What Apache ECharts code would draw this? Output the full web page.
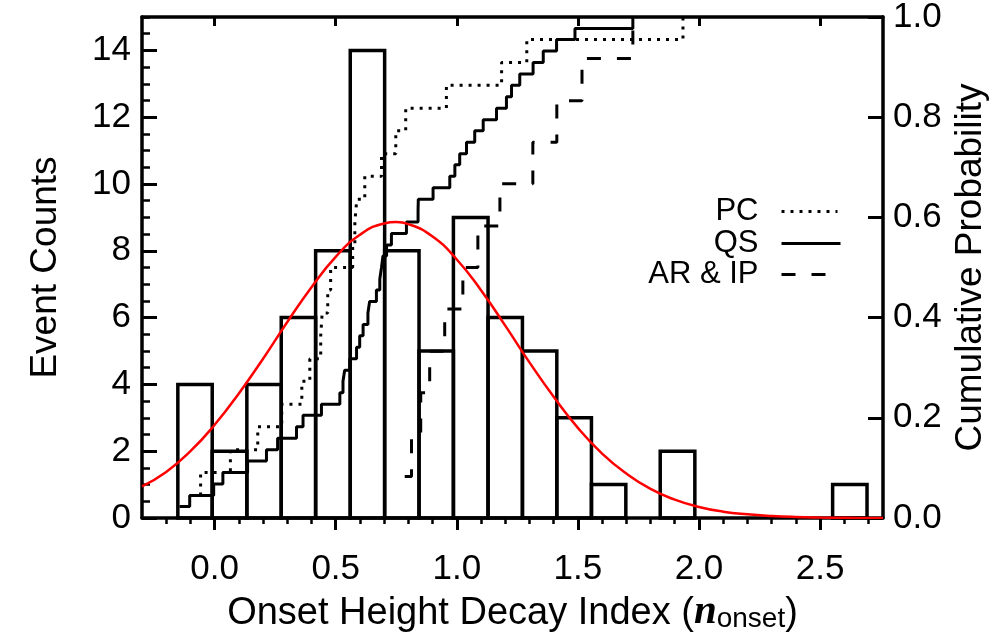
<!DOCTYPE html>
<html><head><meta charset="utf-8">
<script src="https://cdn.jsdelivr.net/npm/echarts@6/dist/echarts.min.js"></script>
<style>html,body{margin:0;padding:0;background:#fff}#c{width:1004px;height:634px}</style>
</head><body><div id="c"></div>
<script>
// ---------- data ----------
const binEdges = [-0.152,-0.010,0.133,0.275,0.417,0.560,0.702,0.844,0.986,1.129,1.271,1.413,1.556,1.698,1.840,1.983,2.125,2.267,2.409,2.552,2.694];
const binCounts = [4,2,4,6,8,14,8,5,9,6,5,3,1,0,2,0,0,0,0,1];

const pcX = [-0.095,-0.058,0.065,0.178,0.277,0.360,0.393,0.438,0.444,0.467,0.479,0.570,0.579,0.587,0.620,0.689,0.748,0.789,0.957,1.185,1.289,1.934];
const pcP = [0.045,0.091,0.136,0.182,0.227,0.273,0.318,0.364,0.409,0.455,0.500,0.545,0.591,0.636,0.682,0.727,0.773,0.818,0.864,0.909,0.955,1.000];

const qsX = [-0.145,-0.103,-0.004,0.034,0.136,0.214,0.260,0.338,0.365,0.441,0.517,0.530,0.537,0.558,0.586,0.599,0.613,0.633,0.640,0.668,0.682,0.689,0.695,0.710,0.730,0.792,0.840,0.841,0.902,0.971,0.992,1.012,1.040,1.074,1.109,1.164,1.205,1.226,1.260,1.315,1.357,1.412,1.488,1.727];
const qsP = [0.023,0.045,0.068,0.091,0.114,0.136,0.159,0.182,0.205,0.227,0.250,0.273,0.295,0.318,0.341,0.364,0.386,0.409,0.432,0.455,0.477,0.500,0.523,0.545,0.568,0.591,0.614,0.636,0.659,0.682,0.705,0.727,0.750,0.773,0.795,0.818,0.841,0.864,0.886,0.909,0.932,0.955,0.977,1.000];

const arX = [0.785,0.813,0.851,0.888,0.950,1.025,1.087,1.178,1.314,1.413,1.517,1.727];
const arP = [0.083,0.167,0.250,0.333,0.417,0.500,0.583,0.667,0.750,0.833,0.917,1.000];

const fitX = [-0.3,-0.2,-0.1,0.0,0.1,0.2,0.3,0.4,0.5,0.6,0.7,0.75,0.8,0.9,1.0,1.1,1.2,1.3,1.4,1.5,1.6,1.7,1.8,1.9,2.0,2.1,2.2,2.3,2.4,2.5,2.6,2.7,2.76];
const fitY = [0.95,1.38,2.00,2.79,3.73,4.77,5.87,6.91,7.82,8.48,8.82,8.86,8.80,8.43,7.74,6.82,5.76,4.66,3.63,2.70,1.93,1.33,0.87,0.55,0.33,0.19,0.11,0.06,0.03,0.014,0.006,0.002,0.001];

const xMajorTicks = [0.0,0.5,1.0,1.5,2.0,2.5];
const seriesNames = ['PC','QS','AR & IP'];

// ---------- build ----------
const xMinorTicks = [];
for (let i = -2; i <= 27; i++) { if (i % 5 !== 0) xMinorTicks.push(i / 10); }
const zip = (a, b) => a.map((v, i) => [v, b[i]]);
const histData = [];
binCounts.forEach((c, i) => { if (c > 0) histData.push([binEdges[i], binEdges[i + 1], c]); });

const FONT = '"Liberation Sans", Arial, Helvetica, sans-serif';
const X_MIN = -0.3, X_MAX = 2.76;
const black = '#000';
const AXW = 3.5;

const chart = echarts.init(document.getElementById('c'), null, {renderer: 'canvas'});

function legendFor(name, itemWidth, right, top, lineType, lw) {
  return {
    data: [name], right: right, top: top, orient: 'vertical', align: 'right',
    padding: 0, itemWidth: itemWidth, itemHeight: 30, selectedMode: false,
    itemStyle: {opacity: 0},
    lineStyle: {color: black, width: lw, type: lineType},
    textStyle: {fontSize: 31, fontFamily: FONT, color: black, padding: [0, 18, 0, 0], lineHeight: 30}
  };
}

chart.setOption({
  animation: false,
  backgroundColor: '#fff',
  grid: {left: 142, right: 121, top: 17, bottom: 116, containLabel: false, outerBoundsMode: 'none'},
  legend: [
    legendFor('PC', 56, 165, 196, [3, 6], 3),
    legendFor('QS', 59, 162, 228, 'solid', 3),
    legendFor('AR & IP', 46, 175, 259, [14, 16], 3)
  ],
  xAxis: [
    {type: 'value', position: 'bottom', min: X_MIN, max: X_MAX,
     axisLine: {show: true, onZero: false, lineStyle: {color: black, width: AXW}},
     axisTick: {show: true, customValues: xMajorTicks, inside: false, length: 12, lineStyle: {color: black, width: 3}},
     axisLabel: {customValues: xMajorTicks, formatter: v => v.toFixed(1), fontSize: 35, fontFamily: FONT, color: black, margin: 34},
     splitLine: {show: false},
     name: '{a|Onset Height Decay Index (}{n|n}{s|onset}{a|)}',
     nameLocation: 'middle', nameGap: 63,
     nameTextStyle: {rich: {
       a: {fontSize: 38, fontFamily: FONT, color: black, lineHeight: 44, verticalAlign: 'bottom'},
       n: {fontSize: 41, fontFamily: '"Liberation Serif", "DejaVu Serif", serif', fontWeight: 'bold', fontStyle: 'italic', color: black, lineHeight: 44, verticalAlign: 'bottom'},
       s: {fontSize: 28, fontFamily: FONT, color: black, lineHeight: 18, verticalAlign: 'bottom'}
     }}},
    {type: 'value', position: 'bottom', min: X_MIN, max: X_MAX,
     axisLine: {show: false, onZero: false},
     axisTick: {show: true, customValues: xMinorTicks, inside: false, length: 6, lineStyle: {color: black, width: 2.5}},
     axisLabel: {show: false}, splitLine: {show: false}},
    {type: 'value', position: 'top', min: X_MIN, max: X_MAX,
     axisLine: {show: true, onZero: false, lineStyle: {color: black, width: AXW}},
     axisTick: {show: true, customValues: xMajorTicks, inside: true, length: 9, lineStyle: {color: black, width: 3}},
     axisLabel: {show: false}, splitLine: {show: false}}
  ],
  yAxis: [
    {type: 'value', position: 'left', min: 0, max: 15, interval: 2,
     axisLine: {show: true, onZero: false, lineStyle: {color: black, width: AXW}},
     axisTick: {show: true, inside: true, length: 15, lineStyle: {color: black, width: 3}},
     axisLabel: {showMaxLabel: false, fontSize: 35, fontFamily: FONT, color: black, margin: 11},
     splitLine: {show: false},
     name: 'Event Counts', nameLocation: 'middle', nameRotate: 90, nameGap: 78,
     nameTextStyle: {fontSize: 37, fontFamily: FONT, color: black}},
    {type: 'value', position: 'left', min: 0, max: 15, interval: 0.5,
     axisLine: {show: false, onZero: false},
     axisTick: {show: true, inside: true, length: 8, lineStyle: {color: black, width: 2.5}},
     axisLabel: {show: false}, splitLine: {show: false}},
    {type: 'value', position: 'right', min: 0, max: 1, interval: 0.2,
     axisLine: {show: true, onZero: false, lineStyle: {color: black, width: AXW}},
     axisTick: {show: true, inside: true, length: 15, lineStyle: {color: black, width: 3}},
     axisLabel: {formatter: v => v.toFixed(1), fontSize: 35, fontFamily: FONT, color: black, margin: 10},
     splitLine: {show: false},
     name: 'Cumulative Probability', nameLocation: 'middle', nameRotate: 90, nameGap: 66,
     nameTextStyle: {fontSize: 37, fontFamily: FONT, color: black}}
  ],
  series: [
    {type: 'custom', name: 'hist', xAxisIndex: 0, yAxisIndex: 0, data: histData,
     encode: {x: [0, 1], y: 2}, z: 2,
     renderItem: function (params, api) {
       const p0 = api.coord([api.value(0), api.value(2)]);
       const p1 = api.coord([api.value(1), 0]);
       return {type: 'rect', shape: {x: p0[0], y: p0[1], width: p1[0] - p0[0], height: p1[1] - p0[1]},
               style: {fill: 'none', stroke: black, lineWidth: 3.5}};
     }},
    {type: 'line', name: seriesNames[0], xAxisIndex: 0, yAxisIndex: 2, data: zip(pcX, pcP), step: 'end',
     symbol: 'none', lineStyle: {color: black, width: 3, type: [3, 6]}, z: 3},
    {type: 'line', name: seriesNames[1], xAxisIndex: 0, yAxisIndex: 2, data: zip(qsX, qsP), step: 'end',
     symbol: 'none', lineStyle: {color: black, width: 3, type: 'solid'}, z: 3},
    {type: 'line', name: seriesNames[2], xAxisIndex: 0, yAxisIndex: 2, data: zip(arX, arP), step: 'end',
     symbol: 'none', lineStyle: {color: black, width: 3, type: [14, 16]}, z: 3},
    {type: 'line', name: 'fit', xAxisIndex: 0, yAxisIndex: 0, data: zip(fitX, fitY), smooth: true,
     symbol: 'none', lineStyle: {color: '#ff0000', width: 2.5}, z: 4}
  ]
});
</script></body></html>
